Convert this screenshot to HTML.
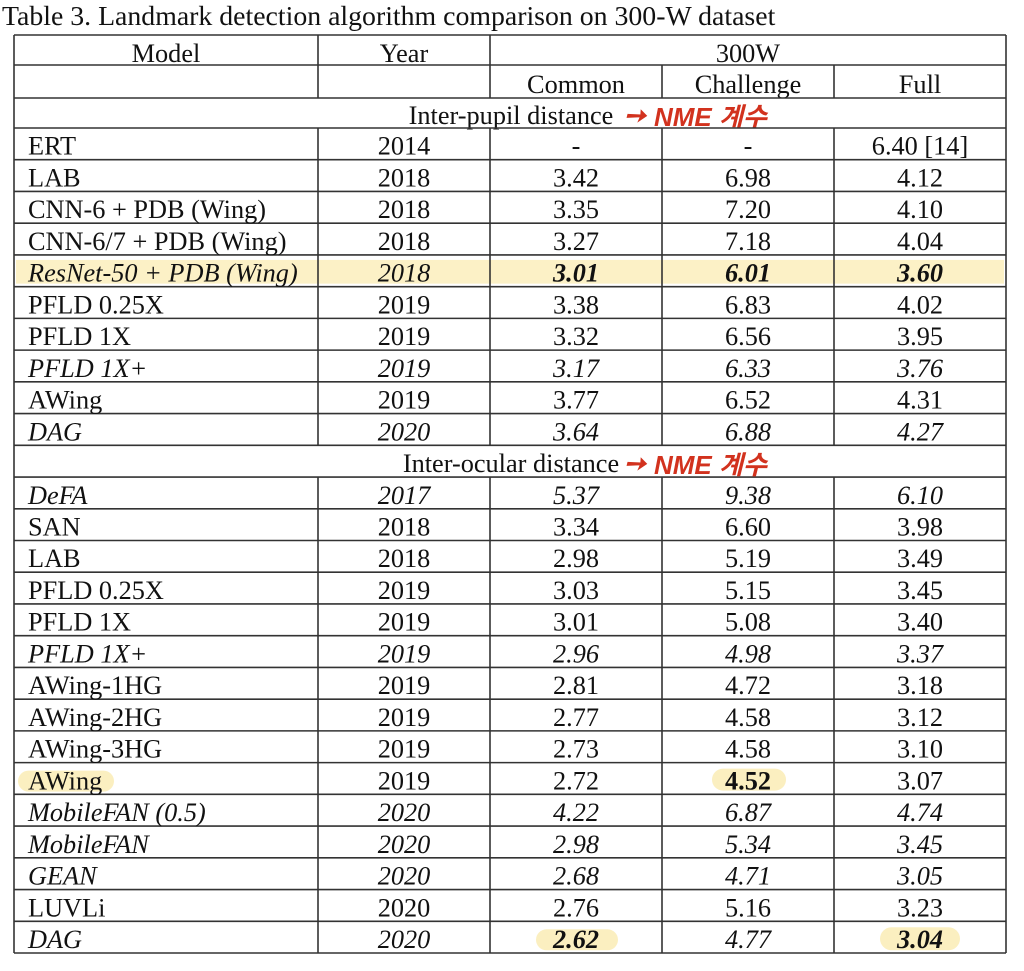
<!DOCTYPE html>
<html><head><meta charset="utf-8">
<style>
html,body{margin:0;padding:0;background:#fff;}
svg{display:block;}
text{font-family:"Liberation Serif","Noto Serif CJK SC",serif;font-size:26.3px;fill:#111;}
.t{font-size:27.8px;}
.i{font-style:italic;}
.b{font-weight:bold;}
.red{font-family:"Liberation Sans","Noto Sans CJK KR",sans-serif;font-style:italic;font-weight:bold;fill:#d2321e;font-size:26px;}
</style></head><body>
<svg id="s" width="1024" height="971" xmlns="http://www.w3.org/2000/svg">
<text class="t" x="2" y="25">Table 3. Landmark detection algorithm comparison on 300-W dataset</text>
</svg>
<script>
const s=document.getElementById('s');const NS='http://www.w3.org/2000/svg';
function el(t,a,txt){const e=document.createElementNS(NS,t);for(const k in a)e.setAttribute(k,a[k]);if(txt!==undefined)e.textContent=txt;s.appendChild(e);return e;}
const L=14,C1=318,C2=490,C3=662,C4=834,R=1006;
const rows=[
['ERT','2014','-','-','6.40 [14]',''],
['LAB','2018','3.42','6.98','4.12',''],
['CNN-6 + PDB (Wing)','2018','3.35','7.20','4.10',''],
['CNN-6/7 + PDB (Wing)','2018','3.27','7.18','4.04',''],
['ResNet-50 + PDB (Wing)','2018','3.01','6.01','3.60','ib'],
['PFLD 0.25X','2019','3.38','6.83','4.02',''],
['PFLD 1X','2019','3.32','6.56','3.95',''],
['PFLD 1X+','2019','3.17','6.33','3.76','i'],
['AWing','2019','3.77','6.52','4.31',''],
['DAG','2020','3.64','6.88','4.27','i'],
['sec','Inter-ocular distance'],
['DeFA','2017','5.37','9.38','6.10','i'],
['SAN','2018','3.34','6.60','3.98',''],
['LAB','2018','2.98','5.19','3.49',''],
['PFLD 0.25X','2019','3.03','5.15','3.45',''],
['PFLD 1X','2019','3.01','5.08','3.40',''],
['PFLD 1X+','2019','2.96','4.98','3.37','i'],
['AWing-1HG','2019','2.81','4.72','3.18',''],
['AWing-2HG','2019','2.77','4.58','3.12',''],
['AWing-3HG','2019','2.73','4.58','3.10',''],
['AWing','2019','2.72','4.52','3.07','aw'],
['MobileFAN (0.5)','2020','4.22','6.87','4.74','i'],
['MobileFAN','2020','2.98','5.34','3.45','i'],
['GEAN','2020','2.68','4.71','3.05','i'],
['LUVLi','2020','2.76','5.16','3.23',''],
['DAG','2020','2.62','4.77','3.04','dag'],
];
const Y0=128,H=(953-128)/26;
const Y=i=>Y0+i*H;
const hl=(x,y,w,h)=>el('rect',{x,y,width:w,height:h,rx:h/2,fill:'#fbefc0'});
el('rect',{x:16,y:Y(4)+5,width:988,height:H-8,fill:'#fcf1c6'});
hl(18,Y(20)+8,96,21);hl(712,Y(20)+6,74,22);
hl(536,Y(25)+8,82,21);hl(880,Y(25)+6,80,23);
el('text',{x:166,y:62,'text-anchor':'middle'},'Model');
el('text',{x:404,y:62,'text-anchor':'middle'},'Year');
el('text',{x:748,y:62,'text-anchor':'middle'},'300W');
el('text',{x:576,y:93,'text-anchor':'middle'},'Common');
el('text',{x:748,y:93,'text-anchor':'middle'},'Challenge');
el('text',{x:920,y:93,'text-anchor':'middle'},'Full');
el('text',{x:511,y:124,'text-anchor':'middle'},'Inter-pupil distance');
function red(y){el('text',{class:'red',x:624,y:y,'font-size':'22'},'➙');el('text',{class:'red',x:654,y:y+2},'NME 계수');}
red(124);
const ln=(x1,y1,x2,y2)=>el('line',{x1,y1,x2,y2,stroke:'#333','stroke-width':1.6});
ln(L,35,R,35);ln(L,65,R,65);ln(L,98,R,98);ln(L,128,R,128);
ln(L,35,L,953);ln(R,35,R,953);
ln(C1,35,C1,98);ln(C2,35,C2,98);ln(C3,65,C3,98);ln(C4,65,C4,98);
rows.forEach((r,k)=>{
 const y=Y(k),by=y+H-5;
 ln(L,y+H,R,y+H);
 if(r[0]==='sec'){
  el('text',{x:511,y:by,'text-anchor':'middle'},r[1]);red(by);
  return;
 }
 ln(C1,y,C1,y+H);ln(C2,y,C2,y+H);ln(C3,y,C3,y+H);ln(C4,y,C4,y+H);
 const f=r[5];const it=(f==='i'||f==='ib'||f==='dag');
 const cls=it?'i':'';
 el('text',{x:28,y:by,class:cls},r[0]);
 el('text',{x:404,y:by,'text-anchor':'middle',class:cls},r[1]);
 [576,748,920].forEach((cx,j)=>{
  const bold=(f==='ib')||(f==='dag'&&j!==1)||(f==='aw'&&j===1);
  el('text',{x:cx,y:by,'text-anchor':'middle',class:(cls+(bold?' b':''))},r[2+j]);
 });
});
</script>
</body></html>
